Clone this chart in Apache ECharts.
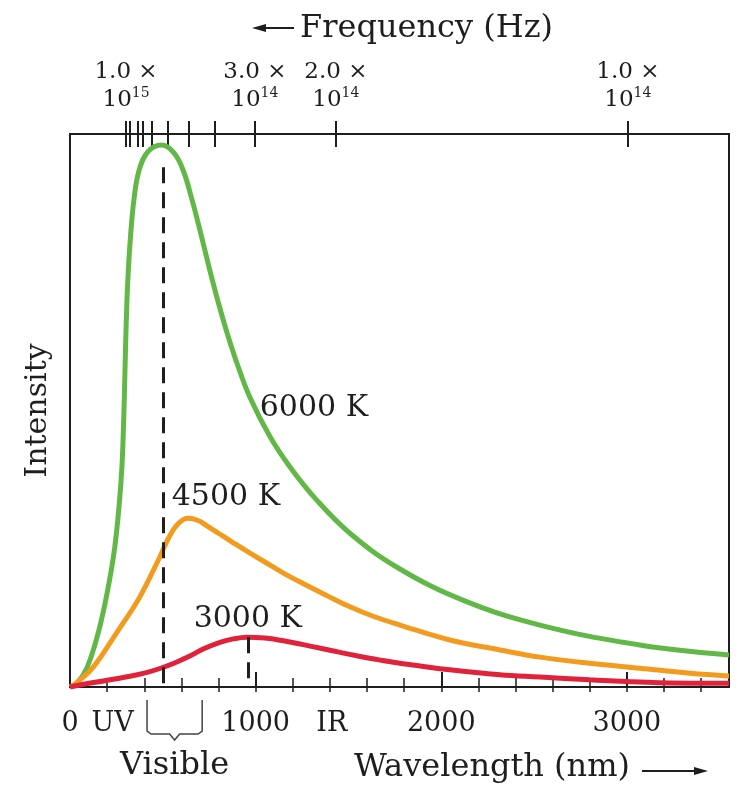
<!DOCTYPE html>
<html>
<head>
<meta charset="utf-8">
<title>Blackbody radiation</title>
<script src="https://cdn.jsdelivr.net/npm/echarts@6/dist/echarts.min.js"></script>
<style>
  html, body { margin: 0; padding: 0; background: #fff; }
  #chart { width: 739px; height: 789px; }
</style>
</head>
<body>
<div id="chart"></div>
<script>
// wavelength (nm) / relative intensity
var curve6000 = [[0,0],[40,0.8],[93,3.6],[152,9.8],[200,17],[240,25],[265,33],[280,40],[289,48],[296,57],
  [303,66],[312,74],[326,81.5],[345,88.3],[372,93.4],[420,96.8],[494,98],[560,96.6],[610,93.4],[655,88.4],
  [700,82.6],[750,75.8],[800,69.4],[850,63.6],[905,58],[969,52.4],[1077,45.3],[1185,39.8],[1329,33.8],
  [1508,27.8],[1759,21.7],[2116,15.7],[2531,11.2],[3069,7.6],[3550,5.8]];
var curve4500 = [[0,0],[40,0.9],[125,3.6],[251,9.8],[366,15.7],[430,19.8],[485,23.6],[535,27.2],[585,29.6],
  [635,30.5],[690,30.1],[740,29.1],[800,27.8],[870,26.3],[950,24.6],[1050,22.6],[1150,20.6],[1250,18.8],
  [1380,16.6],[1508,14.5],[1640,12.7],[1777,11.2],[2046,8.5],[2316,6.7],[2531,5.4],[2800,4.3],[3069,3.4],
  [3339,2.5],[3550,2.0]];
var curve3000 = [[0,0],[60,0.4],[180,1.1],[300,1.8],[400,2.5],[480,3.3],[560,4.3],[640,5.5],[720,6.9],
  [800,8.0],[880,8.7],[953,9.0],[1050,8.85],[1150,8.35],[1250,7.7],[1350,7.0],[1450,6.3],[1550,5.6],
  [1650,5.0],[1777,4.3],[2046,3.1],[2316,2.2],[2531,1.8],[2800,1.3],[3069,0.9],[3339,0.7],[3550,0.7]];

var curveNames = ['6000 K', '4500 K', '3000 K'];
var labelAnchors = [[1314, 50.5], [840, 34.4], [958, 12.3]];
var peakLines = [[500, 94], [958, 9]];   // dashed lines, from peak down to axis
var visibleRange = [415, 712];

var bottomTickNm = [200,400,600,800,1000,1200,1400,1600,1800,2000,2200,2400,2600,2800,3000,3200,3400];
var bottomMajorNm = [1000, 2000, 3000];
var bottomLabelNm = [0, 230, 1000, 1410, 2000, 3000];
var bottomLabelText = ['0', 'UV', '1000', 'IR', '2000', '3000'];

// frequency scale on top, positions in nm as drawn
var topTickNm = [302, 323, 366, 393, 442, 528, 641, 781, 996, 1432, 3005];
var topLabelNm = [302, 996, 1432, 3005];
var topLabelText = [['1.0', '15'], ['3.0', '14'], ['2.0', '14'], ['1.0', '14']];

var FONT = 'DejaVu Serif';
var INK = '#1e1e1e';
var XMAX = 3550;

var chart = echarts.init(document.getElementById('chart'));

function baseX(pos) {
  return {
    type: 'value', position: pos, min: 0, max: XMAX,
    axisLine: { show: false }, splitLine: { show: false },
    axisTick: { show: false }, axisLabel: { show: false }
  };
}

var xBottom = baseX('bottom');
xBottom.axisTick = { show: true, inside: true, length: 9, customValues: bottomTickNm,
  lineStyle: { color: INK, width: 1.5 } };
xBottom.axisLabel = {
  show: true, customValues: bottomLabelNm, margin: 23,
  fontFamily: FONT, fontSize: 27, color: INK,
  formatter: function (v) { return bottomLabelText[bottomLabelNm.indexOf(v)]; }
};
var xBottomOut = baseX('bottom');
xBottomOut.axisTick = { show: true, inside: false, length: 5, customValues: bottomTickNm,
  lineStyle: { color: INK, width: 1.5 } };
var xBottomMajor = baseX('bottom');
xBottomMajor.axisTick = { show: true, inside: true, length: 15, customValues: bottomMajorNm,
  lineStyle: { color: INK, width: 2 } };

var xTop = baseX('top');
xTop.axisTick = { show: true, inside: true, length: 13, customValues: topTickNm,
  lineStyle: { color: INK, width: 2 } };
xTop.axisLabel = {
  show: true, customValues: topLabelNm, margin: 20, color: INK, fontFamily: FONT,
  formatter: function (v) {
    var t = topLabelText[topLabelNm.indexOf(v)];
    return '{a|' + t[0] + ' ×}\n{b|10}{s|' + t[1] + '}';
  },
  rich: {
    a: { fontFamily: FONT, fontSize: 23, lineHeight: 28, color: INK },
    b: { fontFamily: FONT, fontSize: 23, lineHeight: 28, color: INK },
    s: { fontFamily: FONT, fontSize: 14, lineHeight: 28, color: INK, verticalAlign: 'top' }
  }
};
var xTopOut = baseX('top');
xTopOut.axisTick = { show: true, inside: false, length: 13, customValues: topTickNm,
  lineStyle: { color: INK, width: 2 } };

var colors = ['#62b846', '#f39b1f', '#e0223a'];
var curves = [curve6000, curve4500, curve3000];

var series = curves.map(function (data, i) {
  return {
    name: curveNames[i], type: 'line', data: data,
    xAxisIndex: 0, yAxisIndex: 0,
    smooth: 0.4, symbol: 'none', silent: true,
    lineStyle: { color: colors[i], width: 5 },
    markPoint: {
      symbol: 'circle', symbolSize: 0, silent: true,
      label: { show: true, position: 'inside', formatter: '{b}',
        fontFamily: FONT, fontSize: 30, color: INK },
      data: [{ name: curveNames[i], coord: labelAnchors[i] }]
    }
  };
});
series[0].markLine = {
  symbol: 'none', silent: true, animation: false,
  label: { show: false },
  lineStyle: { color: INK, width: 3, type: [16, 9] },
  data: peakLines.map(function (p) { return [{ coord: [p[0], p[1]] }, { coord: [p[0], 0] }]; })
};

chart.setOption({
  animation: false,
  grid: { left: 70, right: 10, top: 134, bottom: 102, show: true,
    borderColor: INK, borderWidth: 2, backgroundColor: 'transparent' },
  xAxis: [xBottom, xBottomOut, xBottomMajor, xTop, xTopOut],
  yAxis: {
    type: 'value', min: 0, max: 100,
    axisLine: { show: false }, axisTick: { show: false },
    axisLabel: { show: false }, splitLine: { show: false },
    name: 'Intensity', nameLocation: 'middle', nameGap: 17,
    nameTextStyle: { fontFamily: FONT, fontSize: 30, color: INK }
  },
  series: series
});

// decorations: axis titles with arrows and the "Visible" bracket
var a = chart.convertToPixel({ xAxisIndex: 0, yAxisIndex: 0 }, [visibleRange[0], 0]);
var b = chart.convertToPixel({ xAxisIndex: 0, yAxisIndex: 0 }, [visibleRange[1], 0]);
var x1 = a[0], x2 = b[0], xm = (x1 + x2) / 2, yb = a[1];

chart.setOption({
  graphic: [
    { type: 'text', style: { text: 'Frequency (Hz)', x: 300, y: 29, fontFamily: FONT, fontSize: 32,
      fill: INK, align: 'left', verticalAlign: 'middle' } },
    { type: 'line', shape: { x1: 258, y1: 28, x2: 294, y2: 28 }, style: { stroke: INK, lineWidth: 2 } },
    { type: 'polygon', shape: { points: [[252, 28], [266, 24], [266, 32]] }, style: { fill: INK } },

    { type: 'text', style: { text: 'Wavelength (nm)', x: 354, y: 768, fontFamily: FONT, fontSize: 32,
      fill: INK, align: 'left', verticalAlign: 'middle' } },
    { type: 'line', shape: { x1: 642, y1: 771, x2: 700, y2: 771 }, style: { stroke: INK, lineWidth: 2 } },
    { type: 'polygon', shape: { points: [[708, 771], [694, 767], [694, 775]] }, style: { fill: INK } },

    { type: 'text', style: { text: 'Visible', x: xm, y: 766, fontFamily: FONT, fontSize: 32,
      fill: INK, align: 'center', verticalAlign: 'middle' } },
    { type: 'polyline', shape: { points: [
        [x1, yb + 13], [x1, yb + 44], [x1 + 4, yb + 47], [xm - 5, yb + 47], [xm, yb + 53],
        [xm + 5, yb + 47], [x2 - 4, yb + 47], [x2, yb + 44], [x2, yb + 13]] },
      style: { stroke: '#444', lineWidth: 1.5, fill: null } }
  ]
});
</script>
</body>
</html>
